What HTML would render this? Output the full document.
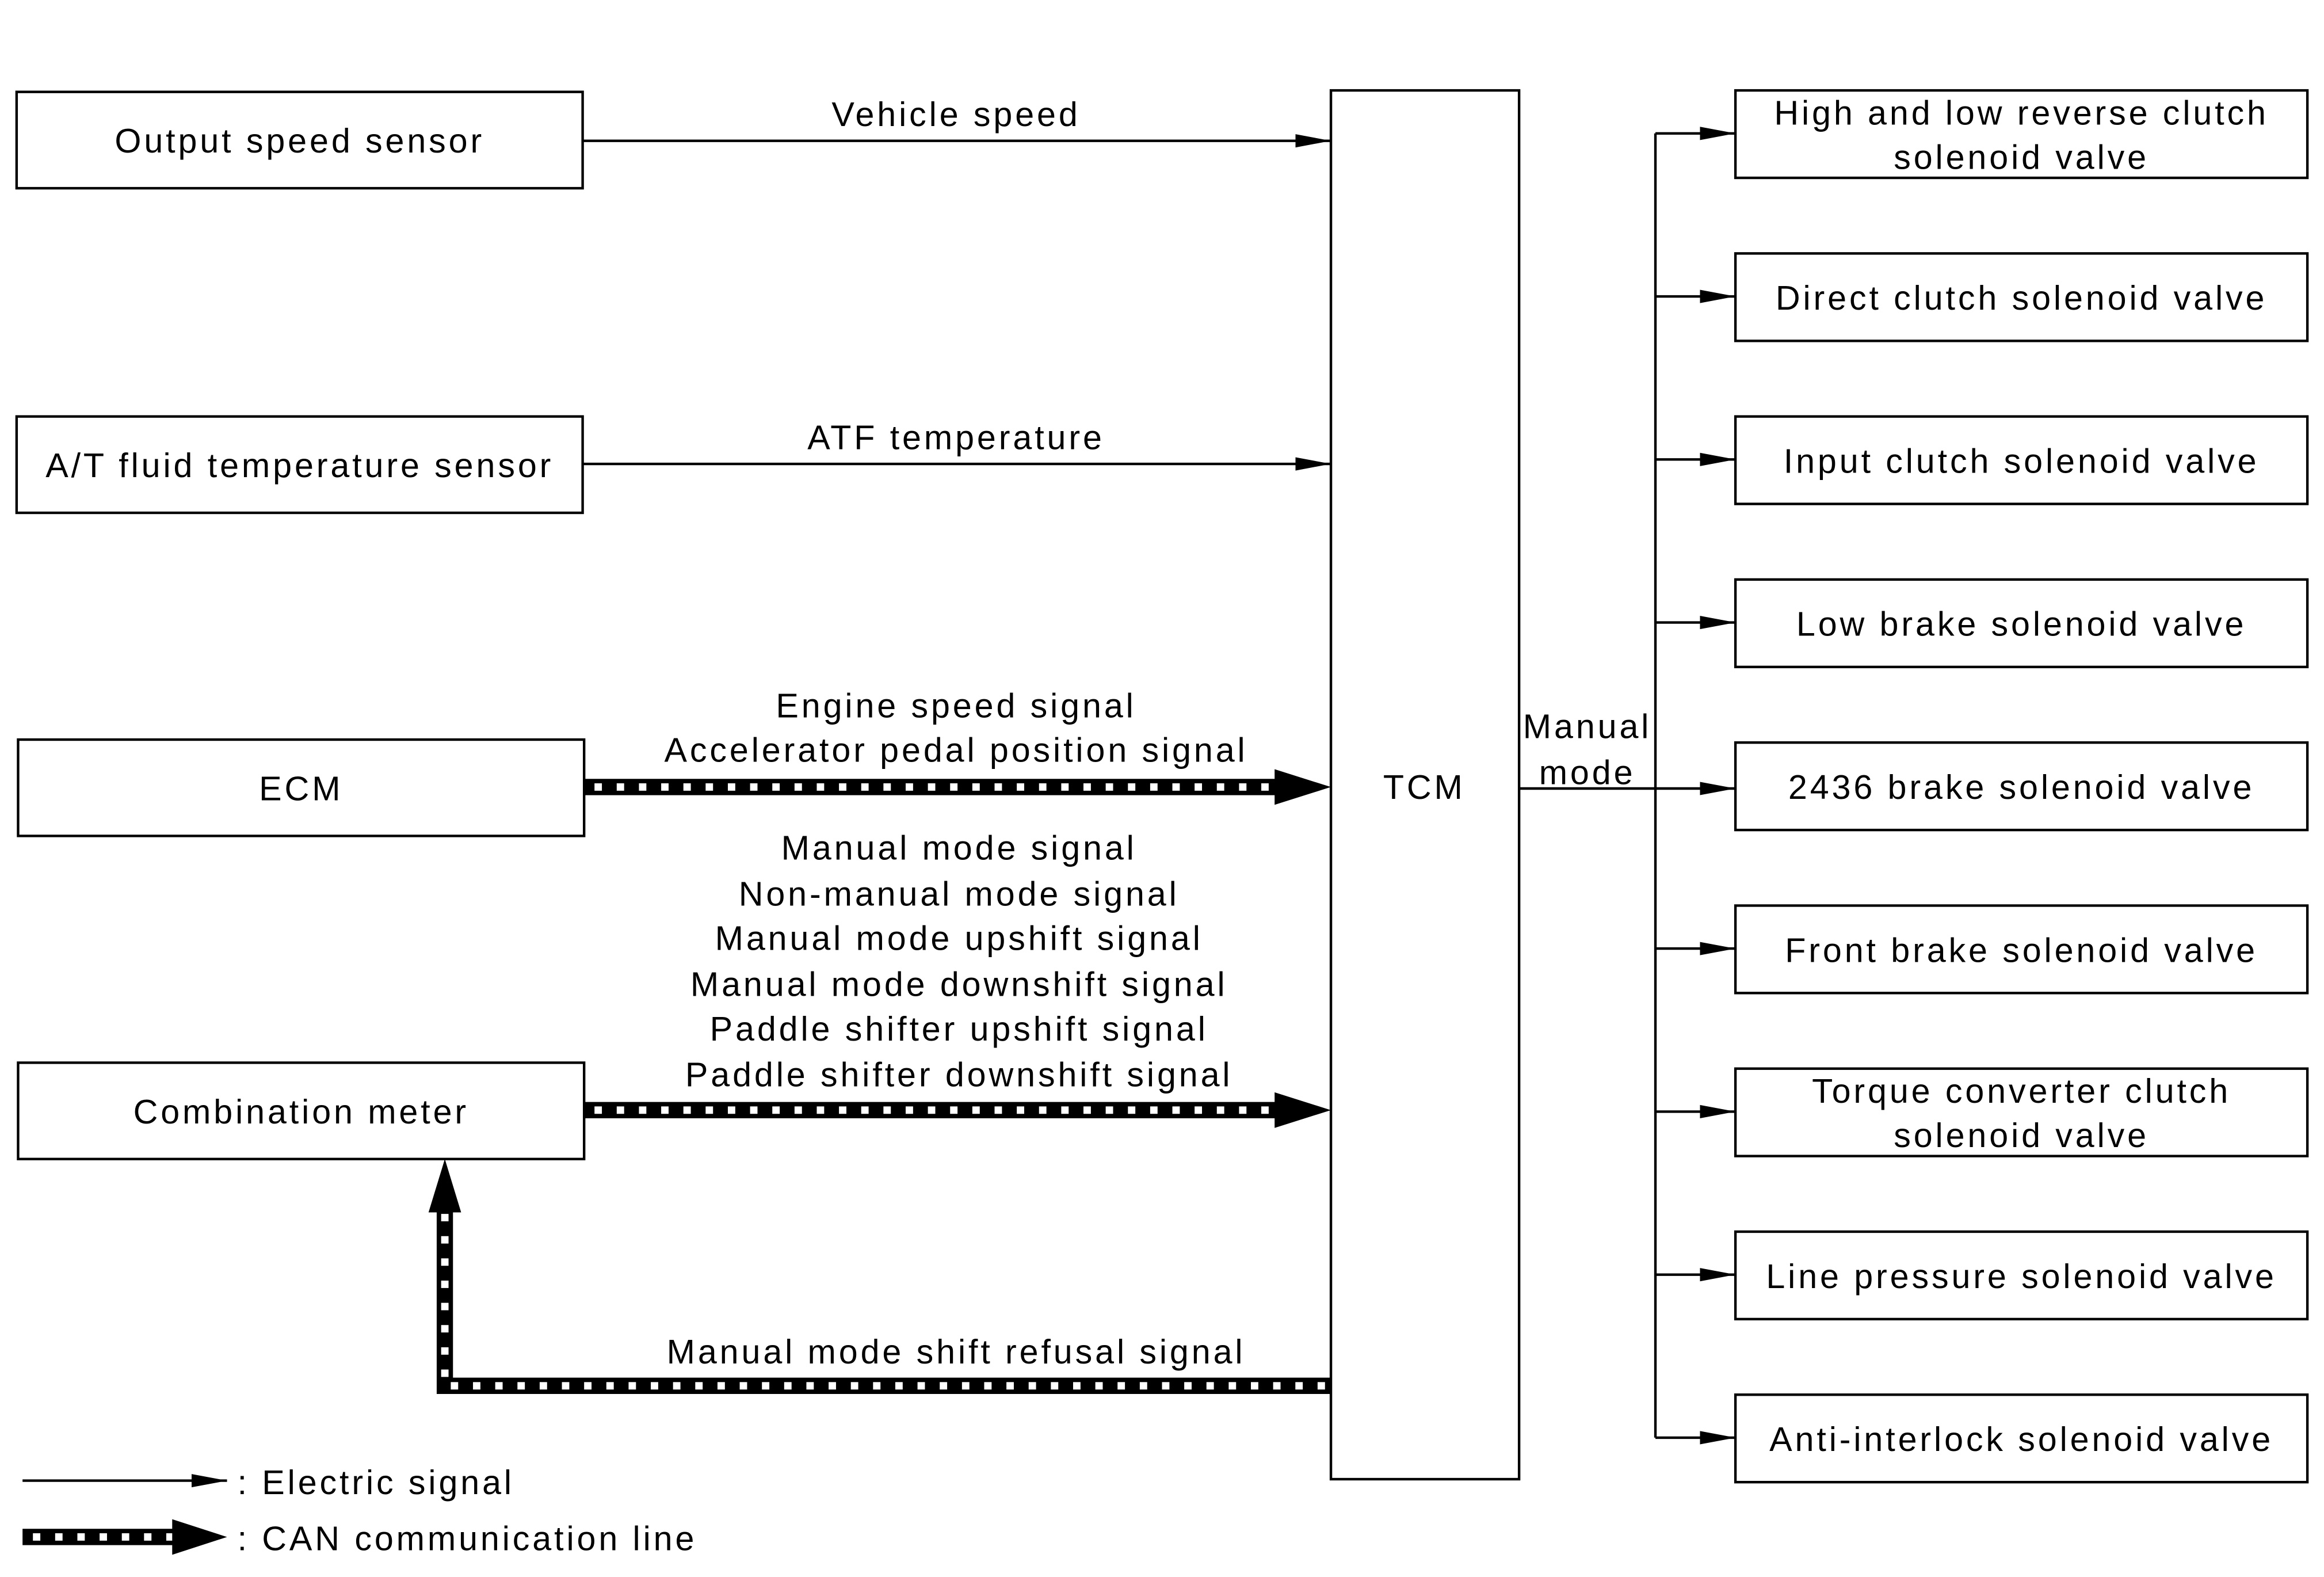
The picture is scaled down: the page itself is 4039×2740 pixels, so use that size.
<!DOCTYPE html>
<html><head><meta charset="utf-8"><style>
html,body{margin:0;padding:0;background:#fff;}
svg{display:block;}
text{font-family:"Liberation Sans",sans-serif;font-size:23px;fill:#000;letter-spacing:1.9px;}
</style></head><body>
<svg width="4039" height="2740" viewBox="0 0 1568 1064" xmlns="http://www.w3.org/2000/svg">
<defs>
<marker id="a" markerWidth="24" markerHeight="12" refX="24" refY="6" orient="auto" markerUnits="userSpaceOnUse"><path d="M0,1.5 L24,6 L0,10.5 Z" fill="#000"/></marker>
</defs>
<g fill="none" stroke="#000" stroke-width="1.7">
<rect x="11" y="62" width="382" height="65"/>
<rect x="11" y="281" width="382" height="65"/>
<rect x="12" y="499" width="382" height="65"/>
<rect x="12" y="717" width="382" height="65"/>
<rect x="898" y="61" width="127" height="937"/>
<rect x="1171" y="61" width="386" height="59"/>
<rect x="1171" y="171" width="386" height="59"/>
<rect x="1171" y="281" width="386" height="59"/>
<rect x="1171" y="391" width="386" height="59"/>
<rect x="1171" y="501" width="386" height="59"/>
<rect x="1171" y="611" width="386" height="59"/>
<rect x="1171" y="721" width="386" height="59"/>
<rect x="1171" y="831" width="386" height="59"/>
<rect x="1171" y="941" width="386" height="59"/>
<line x1="393" y1="95" x2="898" y2="95" marker-end="url(#a)"/>
<line x1="393" y1="313" x2="898" y2="313" marker-end="url(#a)"/>
<line x1="1117" y1="90" x2="1117" y2="970"/>
<line x1="1025" y1="532" x2="1117" y2="532"/>
<line x1="1117" y1="90" x2="1171" y2="90" marker-end="url(#a)"/>
<line x1="1117" y1="200" x2="1171" y2="200" marker-end="url(#a)"/>
<line x1="1117" y1="310" x2="1171" y2="310" marker-end="url(#a)"/>
<line x1="1117" y1="420" x2="1171" y2="420" marker-end="url(#a)"/>
<line x1="1117" y1="532" x2="1171" y2="532" marker-end="url(#a)"/>
<line x1="1117" y1="640" x2="1171" y2="640" marker-end="url(#a)"/>
<line x1="1117" y1="750" x2="1171" y2="750" marker-end="url(#a)"/>
<line x1="1117" y1="860" x2="1171" y2="860" marker-end="url(#a)"/>
<line x1="1117" y1="970" x2="1171" y2="970" marker-end="url(#a)"/>
<line x1="15" y1="999" x2="153" y2="999" marker-end="url(#a)"/>
</g>
<g fill="none">
<path d="M394,531 H866 M394,749 H866 M898,935 H300 V815 M15,1037 H122" stroke="#000" stroke-width="11"/>
<path d="M401,531 H862 M401,749 H862 M894,935 H300 V815 M22,1037 H120" stroke="#fff" stroke-width="5" stroke-dasharray="5 10"/>
</g>
<g fill="#000">
<path d="M860,519 L898,531 L860,543 Z"/>
<path d="M860,737 L898,749 L860,761 Z"/>
<path d="M289,818 L300,782 L311,818 Z"/>
<path d="M116,1025 L153,1037 L116,1049 Z"/>
</g>
<g text-anchor="middle">
<text x="202" y="103">Output speed sensor</text>
<text x="202" y="322">A/T fluid temperature sensor</text>
<text x="203" y="540">ECM</text>
<text x="203" y="758">Combination meter</text>
<text x="961" y="539">TCM</text>
<text x="645" y="85">Vehicle speed</text>
<text x="645" y="303">ATF temperature</text>
<text x="645" y="484">Engine speed signal</text>
<text x="645" y="514">Accelerator pedal position signal</text>
<text x="647" y="580">Manual mode signal</text>
<text x="647" y="611">Non-manual mode signal</text>
<text x="647" y="641">Manual mode upshift signal</text>
<text x="647" y="672">Manual mode downshift signal</text>
<text x="647" y="702">Paddle shifter upshift signal</text>
<text x="647" y="733">Paddle shifter downshift signal</text>
<text x="645" y="920">Manual mode shift refusal signal</text>
<text x="1071" y="498">Manual</text>
<text x="1071" y="529">mode</text>
<text x="1364" y="84">High and low reverse clutch</text>
<text x="1364" y="114">solenoid valve</text>
<text x="1364" y="209">Direct clutch solenoid valve</text>
<text x="1364" y="319">Input clutch solenoid valve</text>
<text x="1364" y="429">Low brake solenoid valve</text>
<text x="1364" y="539">2436 brake solenoid valve</text>
<text x="1364" y="649">Front brake solenoid valve</text>
<text x="1364" y="744">Torque converter clutch</text>
<text x="1364" y="774">solenoid valve</text>
<text x="1364" y="869">Line pressure solenoid valve</text>
<text x="1364" y="979">Anti-interlock solenoid valve</text>
</g>
<text x="160" y="1008">: Electric signal</text>
<text x="160" y="1046">: CAN communication line</text>
</svg>
</body></html>
